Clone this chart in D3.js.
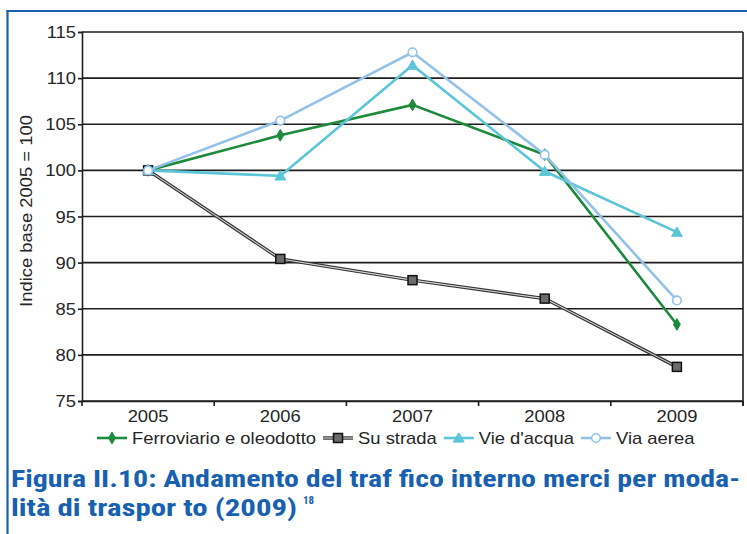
<!DOCTYPE html>
<html>
<head>
<meta charset="utf-8">
<script src="https://cdn.jsdelivr.net/npm/d3@7"></script>
<style>
  body { margin: 0; background: #fff; }
  svg { display: block; }
</style>
</head>
<body>
<div id="chart"></div>
<script>
// data
const years = ['2005', '2006', '2007', '2008', '2009'];
const yTicks = [75, 80, 85, 90, 95, 100, 105, 110, 115];

const ferroviario = [100, 103.8, 107.1, 101.7, 83.3];
const suStrada = [100, 90.4, 88.1, 86.1, 78.7];
const vieAcqua = [100, 99.4, 111.4, 99.9, 93.3];
const viaAerea = [100, 105.4, 112.8, 101.7, 85.9];

const seriesNames = ['Ferroviario e oleodotto', 'Su strada', "Vie d'acqua", 'Via aerea'];

const W = 747, H = 534;
const stretch = 1.15; // the original text is a bit wider than Arial
const blue = '#1761b0';

const series = [
    { name: seriesNames[0], values: ferroviario, color: '#1d8a3c', marker: 'diamond' },
    { name: seriesNames[1], values: suStrada, color: '#2b2b2b', marker: 'square' },
    { name: seriesNames[2], values: vieAcqua, color: '#5ac6d8', marker: 'triangle' },
    { name: seriesNames[3], values: viaAerea, color: '#92c1e9', marker: 'circle' }
];

const plot = { left: 82, right: 743, top: 32, bottom: 401 };

const svg = d3.select('#chart').append('svg')
    .attr('width', W)
    .attr('height', H)
    .style('font-family', '"Liberation Sans", Arial, sans-serif');

const x = d3.scaleBand().domain(years).range([plot.left, plot.right]);
const y = d3.scaleLinear().domain([75, 115]).range([plot.bottom, plot.top]);

// stretched text helper, anchored at (px, py)
function stretchedText(g, px, py, txt, anchor, size, rotate) {
    const rot = rotate ? ` rotate(${rotate})` : '';
    return g.append('text')
        .attr('transform', `translate(${px},${py})${rot} scale(${stretch},1)`)
        .attr('text-anchor', anchor)
        .style('font-size', size + 'px')
        .attr('fill', '#262626')
        .text(txt);
}

// blue frame (left and top)
svg.append('line').attr('x1', 7.5).attr('x2', 7.5).attr('y1', 10).attr('y2', H)
    .attr('stroke', blue).attr('stroke-width', 2.2);
svg.append('line').attr('x1', 6.5).attr('x2', W).attr('y1', 11).attr('y2', 11)
    .attr('stroke', blue).attr('stroke-width', 2.2);

// gridlines
svg.append('g')
    .selectAll('line')
    .data(yTicks)
    .join('line')
    .attr('x1', plot.left).attr('x2', plot.right)
    .attr('y1', d => y(d)).attr('y2', d => y(d))
    .attr('stroke', '#1e1e1e')
    .attr('stroke-width', 1.6);

// right border
svg.append('line').attr('x1', plot.right).attr('x2', plot.right)
    .attr('y1', plot.top).attr('y2', plot.bottom + 5)
    .attr('stroke', '#1e1e1e').attr('stroke-width', 1.6);

// y axis
const yAxis = svg.append('g')
    .attr('transform', `translate(${plot.left},0)`)
    .call(d3.axisLeft(y).tickValues(yTicks).tickSize(4).tickFormat(d3.format('d')));
yAxis.select('.domain').attr('stroke', '#1e1e1e').attr('stroke-width', 1.6);
yAxis.selectAll('.tick line').attr('stroke', '#1e1e1e').attr('stroke-width', 1.6);
yAxis.selectAll('.tick text').remove();
yTicks.forEach(t => stretchedText(svg, plot.left - 6, y(t) + 6, t, 'end', 16));

// x axis
const xAxis = svg.append('g')
    .attr('transform', `translate(0,${plot.bottom})`)
    .call(d3.axisBottom(x).tickSize(0).tickFormat(''));
xAxis.select('.domain').attr('stroke', '#1e1e1e').attr('stroke-width', 1.6);
const bounds = years.map(d => x(d)).concat([plot.right]);
svg.append('g')
    .selectAll('line')
    .data(bounds)
    .join('line')
    .attr('x1', d => d).attr('x2', d => d)
    .attr('y1', plot.bottom).attr('y2', plot.bottom + 5)
    .attr('stroke', '#1e1e1e').attr('stroke-width', 1.6);
years.forEach(yr => stretchedText(svg, x(yr) + x.bandwidth() / 2, 422, yr, 'middle', 16));

// y axis title
stretchedText(svg, 32, 211, 'Indice base 2005 = 100', 'middle', 16, -90);

// markers
function drawMarker(g, type, cx, cy, color) {
    if (type === 'diamond') {
        g.append('path').attr('d', d3.symbol(d3.symbolDiamond, 40)())
            .attr('transform', `translate(${cx},${cy})`)
            .attr('fill', color).attr('stroke', color).attr('stroke-width', 1);
    } else if (type === 'square') {
        g.append('rect').attr('x', cx - 4.5).attr('y', cy - 4.5)
            .attr('width', 9).attr('height', 9)
            .attr('fill', '#6b6b6f').attr('stroke', '#111').attr('stroke-width', 1.5);
    } else if (type === 'triangle') {
        g.append('path').attr('d', d3.symbol(d3.symbolTriangle, 50)())
            .attr('transform', `translate(${cx},${cy + 1})`)
            .attr('fill', color).attr('stroke', color).attr('stroke-width', 1);
    } else {
        g.append('circle').attr('cx', cx).attr('cy', cy).attr('r', 4.3)
            .attr('fill', '#fff').attr('stroke', color).attr('stroke-width', 1.6);
    }
}

const line = d3.line()
    .x((d, i) => x(years[i]) + x.bandwidth() / 2)
    .y(d => y(d));

series.forEach(s => {
    const g = svg.append('g');
    if (s.marker === 'square') {
        // grey double line
        g.append('path').attr('d', line(s.values)).attr('fill', 'none')
            .attr('stroke', '#333').attr('stroke-width', 3.4);
        g.append('path').attr('d', line(s.values)).attr('fill', 'none')
            .attr('stroke', '#d8d8d8').attr('stroke-width', 1.1);
    } else {
        g.append('path').attr('d', line(s.values)).attr('fill', 'none')
            .attr('stroke', s.color).attr('stroke-width', 2.6);
    }
    s.values.forEach((v, i) => drawMarker(g, s.marker, x(years[i]) + x.bandwidth() / 2, y(v), s.color));
});

// legend
const legend = svg.append('g');
let lx = 97;
const ly = 438;
series.forEach(s => {
    const g = legend.append('g');
    if (s.marker === 'square') {
        g.append('line').attr('x1', lx).attr('x2', lx + 30).attr('y1', ly).attr('y2', ly)
            .attr('stroke', '#333').attr('stroke-width', 3.4);
        g.append('line').attr('x1', lx).attr('x2', lx + 30).attr('y1', ly).attr('y2', ly)
            .attr('stroke', '#d8d8d8').attr('stroke-width', 1.1);
    } else {
        g.append('line').attr('x1', lx).attr('x2', lx + 30).attr('y1', ly).attr('y2', ly)
            .attr('stroke', s.color).attr('stroke-width', 2.6);
    }
    drawMarker(g, s.marker, lx + 15, ly, s.color);
    const t = stretchedText(g, lx + 35, ly + 6, s.name, 'start', 16);
    lx += 35 + t.node().getComputedTextLength() * stretch + 7;
});

// caption
const capFont = '"Liberation Sans Narrow", "Roboto Condensed", Roboto, "Liberation Sans", Arial, sans-serif';
svg.append('text')
    .attr('x', 11).attr('y', 487)
    .attr('textLength', 729).attr('lengthAdjust', 'spacingAndGlyphs')
    .style('font-family', capFont).style('font-weight', 'bold').style('font-size', '24px')
    .attr('fill', blue)
    .text('Figura II.10: Andamento del traf fico interno merci per moda-');
svg.append('text')
    .attr('x', 11).attr('y', 516)
    .attr('textLength', 286).attr('lengthAdjust', 'spacingAndGlyphs')
    .style('font-family', capFont).style('font-weight', 'bold').style('font-size', '24px')
    .attr('fill', blue)
    .text('lità di traspor to (2009)');
svg.append('text')
    .attr('x', 303).attr('y', 504)
    .style('font-family', capFont).style('font-weight', 'bold').style('font-size', '11px')
    .attr('fill', blue)
    .text('18');
</script>
</body>
</html>
